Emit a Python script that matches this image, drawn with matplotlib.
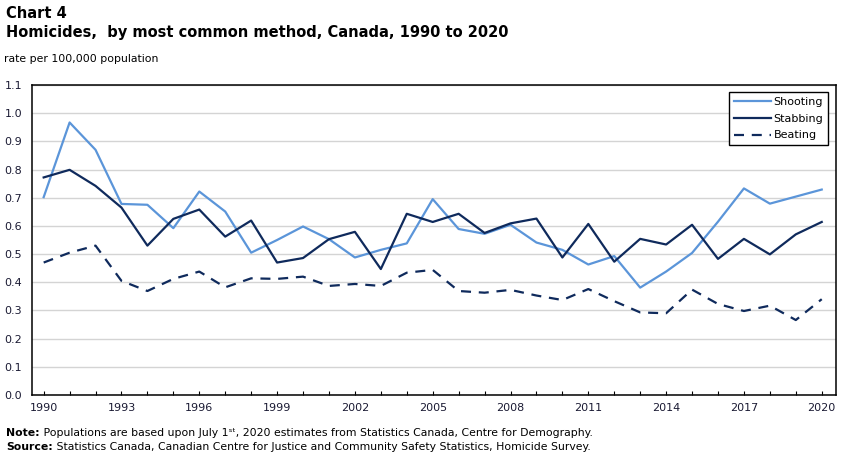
# Homicides by most common method, Canada, 1990 to 2020
import matplotlib.pyplot as plt

years = list(range(1990, 2021))

shooting = [0.702, 0.967, 0.870, 0.678, 0.675, 0.592, 0.722, 0.651, 0.505, 0.550,
            0.598, 0.553, 0.488, 0.515, 0.538, 0.695, 0.589, 0.572, 0.604, 0.541,
            0.515, 0.463, 0.493, 0.381, 0.438, 0.504, 0.615, 0.733, 0.679, 0.704,
            0.729]
stabbing = [0.772, 0.799, 0.742, 0.665, 0.530, 0.625, 0.658, 0.562, 0.619, 0.470,
            0.486, 0.553, 0.579, 0.447, 0.643, 0.614, 0.643, 0.575, 0.609, 0.626,
            0.488, 0.607, 0.473, 0.554, 0.534, 0.604, 0.483, 0.554, 0.499, 0.570,
            0.614]
beating = [0.470, 0.505, 0.530, 0.405, 0.369, 0.412, 0.438, 0.382, 0.414, 0.412,
           0.420, 0.387, 0.394, 0.387, 0.434, 0.444, 0.369, 0.363, 0.373, 0.353,
           0.337, 0.376, 0.333, 0.293, 0.290, 0.374, 0.323, 0.298, 0.317, 0.266,
           0.340]

label_years = list(range(1990, 2021, 3))
y_ticks = [i / 10 for i in range(12)]

light_blue = '#5b95d9'
navy = '#0f2a5c'

plt.rcParams['font.family'] = 'DejaVu Sans'

fig = plt.figure(figsize=(8.51, 4.54), dpi=100)
ax = fig.add_axes([32 / 851, 59 / 454, 804 / 851, 310 / 454])

ax.plot(years, shooting, color=light_blue, lw=1.6, label='Shooting')
ax.plot(years, stabbing, color=navy, lw=1.6, label='Stabbing')
ax.plot(years, beating, color=navy, lw=1.6, ls=(0, (4.5, 3.5)), label='Beating')

ax.set_xlim(1989.55, 2020.55)
ax.set_ylim(0, 1.1)
ax.set_yticks(y_ticks)
ax.set_yticklabels([f'{v:.1f}' for v in y_ticks], fontsize=8, color='#1a1a33')
ax.set_xticks(years)
ax.set_xticklabels([str(y) if y in label_years else '' for y in years],
                   fontsize=8, color='#1a1a33')
ax.tick_params(axis='x', direction='in', length=3, width=0.8, pad=6)
ax.tick_params(axis='y', length=0, pad=7)
ax.grid(axis='y', color='#d4d4d4', lw=1)
ax.set_axisbelow(True)
for s in ax.spines.values():
    s.set_color('black')
    s.set_linewidth(1.1)

leg = ax.legend(loc='upper right', bbox_to_anchor=(0.9905, 0.977), fontsize=8,
                frameon=True, fancybox=False, edgecolor='black', framealpha=1,
                handlelength=3.3, handletextpad=0.25, labelspacing=0.6,
                borderpad=0.45, borderaxespad=0)
leg.get_frame().set_linewidth(1)

fig.text(6 / 851, 1 - 14 / 454, 'Chart 4', fontsize=10.5, fontweight='bold', va='center')
fig.text(6 / 851, 1 - 32 / 454, 'Homicides,  by most common method, Canada, 1990 to 2020',
         fontsize=10.5, fontweight='bold', va='center')
fig.text(4 / 851, 1 - 59 / 454, 'rate per 100,000 population', fontsize=7.8, va='center')

# footnotes: bold lead-in followed by regular text
renderer = fig.canvas.get_renderer()
notes = [('Note:', ' Populations are based upon July 1ˢᵗ, 2020 estimates from Statistics Canada, Centre for Demography.', 433),
         ('Source:', ' Statistics Canada, Canadian Centre for Justice and Community Safety Statistics, Homicide Survey.', 447)]
for head, body, ypix in notes:
    t = fig.text(6 / 851, 1 - ypix / 454, head, fontsize=7.8, fontweight='bold', va='center')
    w = t.get_window_extent(renderer).width
    fig.text((6 + w) / 851, 1 - ypix / 454, body, fontsize=7.8, va='center')

fig.savefig('out.png', dpi=100)
